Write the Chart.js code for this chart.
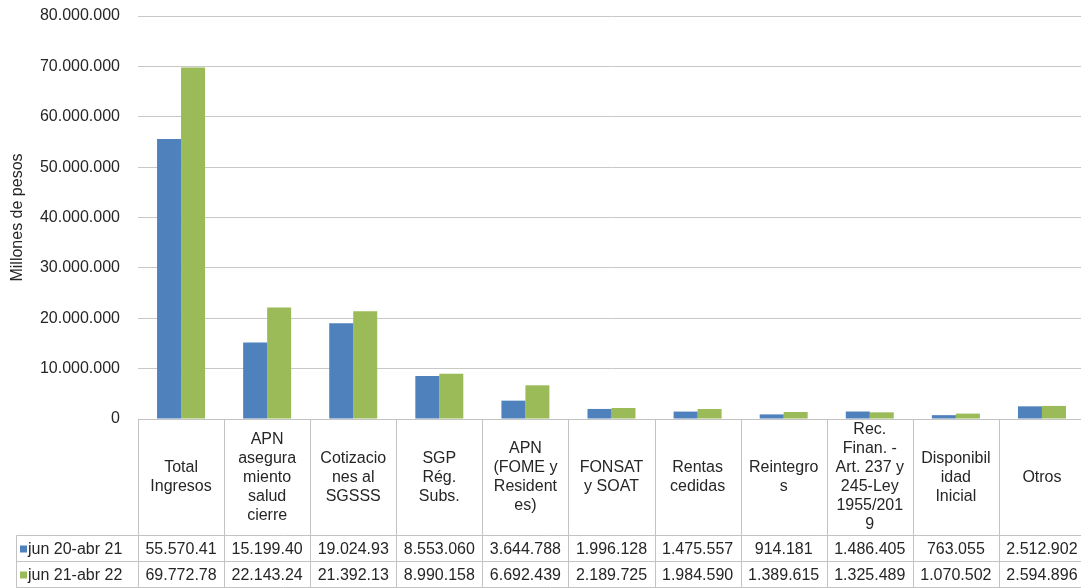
<!DOCTYPE html>
<html>
<head>
<meta charset="utf-8">
<script src="https://cdn.jsdelivr.net/npm/chart.js@4/dist/chart.umd.min.js"></script>
<style>
  html, body { margin: 0; padding: 0; overflow: hidden; background: #fff; }
  #wrap { width: 1090px; height: 588px; position: relative; }
</style>
</head>
<body>
<div id="wrap"><canvas id="chart"></canvas></div>
<script>
// categorias (lineas tal como aparecen en la tabla)
const categories = [
    ['Total', 'Ingresos'],
    ['APN', 'asegura', 'miento', 'salud', 'cierre'],
    ['Cotizacio', 'nes al', 'SGSSS'],
    ['SGP', 'Rég.', 'Subs.'],
    ['APN', '(FOME y', 'Resident', 'es)'],
    ['FONSAT', 'y SOAT'],
    ['Rentas', 'cedidas'],
    ['Reintegro', 's'],
    ['Rec.', 'Finan. -', 'Art. 237 y', '245-Ley', '1955/201', '9'],
    ['Disponibil', 'idad', 'Inicial'],
    ['Otros']
];
const seriesNames = ['jun 20-abr 21', 'jun 21-abr 22'];
const serie2021 = [55570410, 15199400, 19024930, 8553060, 3644788, 1996128, 1475557, 914181, 1486405, 763055, 2512902];
const serie2122 = [69772780, 22143240, 21392130, 8990158, 6692439, 2189725, 1984590, 1389615, 1325489, 1070502, 2594896];
const yTicks = [0, 10000000, 20000000, 30000000, 40000000, 50000000, 60000000, 70000000, 80000000];

const colors = ['#4F81BD', '#9BBB59'];
const FONT = '"Liberation Sans", Arial, sans-serif';
const textColor = '#262626';
const borderColor = '#c3c3c3';

function fmt(n) {
    return String(n).replace(/\B(?=(\d{3})+(?!\d))/g, '.');
}

// tabla de datos bajo el grafico
const dataTable = {
    id: 'dataTable',
    afterDraw(chart) {
        const { ctx, chartArea, scales: { x } } = chart;
        const colW = (chartArea.right - chartArea.left) / categories.length;
        const top = chartArea.bottom + 0.5;
        const headBottom = top + 116;
        const rowH = 26;
        const bottom = headBottom + rowH * 2;
        const legendLeft = 16.5;

        ctx.save();
        ctx.strokeStyle = borderColor;
        ctx.lineWidth = 1;
        ctx.beginPath();
        // horizontales
        ctx.moveTo(chartArea.left, top); ctx.lineTo(chartArea.right, top);
        for (let r = 0; r <= 2; r++) {
            const yy = headBottom + r * rowH;
            ctx.moveTo(legendLeft, yy); ctx.lineTo(chartArea.right, yy);
        }
        // verticales
        for (let i = 0; i <= categories.length; i++) {
            const xx = Math.round(chartArea.left + i * colW) + 0.5;
            ctx.moveTo(xx, top); ctx.lineTo(xx, bottom);
        }
        ctx.moveTo(legendLeft, headBottom); ctx.lineTo(legendLeft, bottom);
        ctx.stroke();

        ctx.fillStyle = textColor;
        ctx.font = '16px ' + FONT;
        ctx.textAlign = 'center';
        ctx.textBaseline = 'middle';
        const lineH = 19;
        const headMid = (top + headBottom) / 2;
        categories.forEach((lines, i) => {
            const cx = x.getPixelForValue(i);
            const y0 = headMid - (lines.length - 1) * lineH / 2;
            lines.forEach((t, k) => ctx.fillText(t, cx, y0 + k * lineH));
        });

        const series = [serie2021, serie2122];
        series.forEach((vals, r) => {
            const cy = headBottom + r * rowH + rowH / 2 + 1;
            vals.forEach((v, i) => {
                let s = fmt(v);
                while (ctx.measureText(s).width > colW - 8) s = s.slice(0, -1);
                ctx.fillStyle = textColor;
                ctx.fillText(s, x.getPixelForValue(i), cy);
            });
            ctx.fillStyle = colors[r];
            ctx.fillRect(20, cy - 4, 7, 7);
            ctx.fillStyle = textColor;
            ctx.textAlign = 'left';
            ctx.fillText(seriesNames[r], 28, cy);
            ctx.textAlign = 'center';
        });
        ctx.restore();
    }
};

new Chart(document.getElementById('chart'), {
    type: 'bar',
    data: {
        labels: categories.map(l => l.join(' ')),
        datasets: [
            { label: seriesNames[0], data: serie2021, backgroundColor: colors[0] },
            { label: seriesNames[1], data: serie2122, backgroundColor: colors[1] }
        ]
    },
    options: {
        responsive: true,
        maintainAspectRatio: false,
        animation: false,
        layout: { padding: { top: 16, bottom: 169, left: 0, right: 5 } },
        datasets: { bar: { barPercentage: 1, categoryPercentage: 48 / 86.1 } },
        plugins: { legend: { display: false }, tooltip: { enabled: false } },
        scales: {
            x: { display: false },
            y: {
                min: yTicks[0],
                max: yTicks[yTicks.length - 1],
                afterFit(scale) {
                    scale.width = 138;
                    scale.paddingTop = 0;
                    scale.paddingBottom = 0;
                },
                afterBuildTicks(scale) { scale.ticks = yTicks.map(v => ({ value: v })); },
                border: { display: false },
                grid: { color: '#c8c8c8', drawTicks: false },
                ticks: {
                    padding: 18,
                    color: textColor,
                    font: { family: FONT, size: 16 },
                    callback: v => fmt(v)
                },
                title: {
                    display: true,
                    text: 'Millones de pesos',
                    color: textColor,
                    font: { family: FONT, size: 16 },
                    padding: { top: 8, bottom: 0 }
                }
            }
        }
    },
    plugins: [dataTable]
});
</script>
</body>
</html>
